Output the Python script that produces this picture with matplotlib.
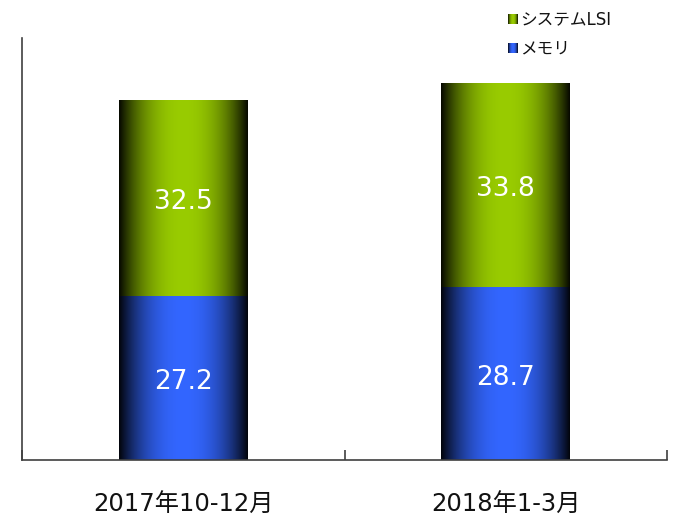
import numpy as np
import matplotlib.pyplot as plt
from matplotlib.colors import to_rgb

plt.rcParams['font.family'] = ['DejaVu Sans', 'Noto Sans CJK JP']

categories = ['2017年10-12月', '2018年1-3月']
memory = [27.2, 28.7]
system_lsi = [32.5, 33.8]
series_names = ['システムLSI', 'メモリ']

green = '#99cc00'
blue = '#3366ff'


def gradient(color, n=256):
    # dark at the edges, bright in the middle
    c = np.array(to_rgb(color))
    t = np.linspace(-1, 1, n)
    w = 1 - np.abs(t) ** 2.2
    w = 0.04 + 0.96 * w
    img = np.outer(w, c)
    return img[np.newaxis, :, :]


fig = plt.figure(figsize=(6.75, 5.17), dpi=100)
ax = fig.add_axes([22 / 675, 57 / 517, 645 / 675, 422 / 517])

x = np.arange(len(categories))
width = 0.4
bars_mem = ax.bar(x, memory, width, color='none')
bars_lsi = ax.bar(x, system_lsi, width, bottom=memory, color='none')

for bars, col in ((bars_mem, blue), (bars_lsi, green)):
    for b in bars:
        x0, y0 = b.get_x(), b.get_y()
        ax.imshow(gradient(col), extent=[x0, x0 + b.get_width(), y0, y0 + b.get_height()],
                  aspect='auto', interpolation='bilinear', zorder=2)
        ax.text(x0 + b.get_width() / 2, y0 + b.get_height() / 2 - 0.7, f'{b.get_height():.1f}',
                ha='center', va='center', color='white', fontsize=19, zorder=3)

ax.set_xlim(-0.5, 1.5)
ax.set_ylim(0, 70)
ax.set_xticks([-0.5, 0.5, 1.5])
ax.set_xticklabels([])
ax.tick_params(axis='x', direction='in', length=7, color='#404040', width=1.2)
ax.set_yticks([])
for s in ['top', 'right']:
    ax.spines[s].set_visible(False)
for s in ['left', 'bottom']:
    ax.spines[s].set_color('#404040')
    ax.spines[s].set_linewidth(1.2)

for xi, lab in zip(x, categories):
    ax.text(xi, -7.5, lab, ha='center', va='center', fontsize=17.5, color='#111111')

# legend
for i, (name, col) in enumerate(zip(series_names, [green, blue])):
    yc = 19 + i * 29
    lax = fig.add_axes([508 / 675, (517 - yc - 5) / 517, 10 / 675, 10 / 517])
    lax.imshow(gradient(col), aspect='auto', interpolation='bilinear')
    lax.set_axis_off()
    fig.text(520 / 675, (517 - yc) / 517, name, ha='left', va='center', fontsize=12,
             color='#111111')

fig.savefig('out.png', dpi=100)
